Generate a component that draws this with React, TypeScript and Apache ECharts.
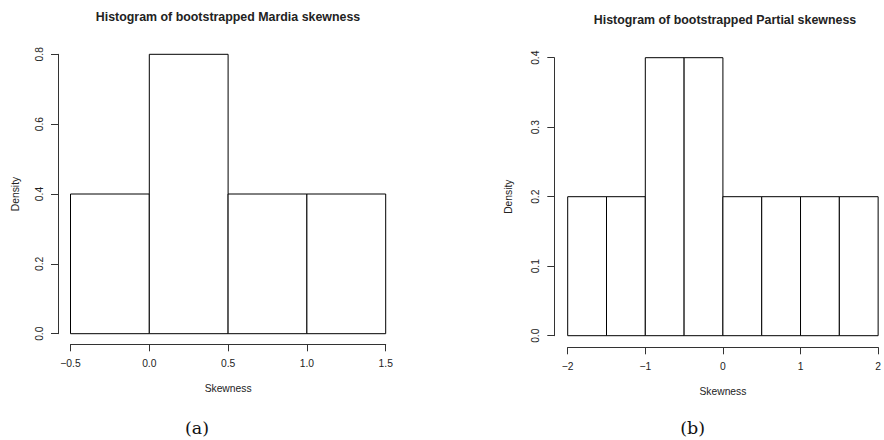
import React, { useEffect, useRef } from "react";
import * as echarts from "echarts";

// Panel (a): Mardia skewness histogram
const mardiaBreaks = [-0.5, 0.0, 0.5, 1.0, 1.5];
const mardiaDensity = [0.4, 0.8, 0.4, 0.4];
const mardiaXTicks = { min: -0.5, max: 1.5, interval: 0.5 };
const mardiaYTicks = { min: 0, max: 0.8, interval: 0.2 };

// Panel (b): Partial skewness histogram
const partialBreaks = [-2, -1.5, -1, -0.5, 0, 0.5, 1, 1.5, 2];
const partialDensity = [0.2, 0.2, 0.4, 0.4, 0.2, 0.2, 0.2, 0.2];
const partialXTicks = { min: -2, max: 2, interval: 1 };
const partialYTicks = { min: 0, max: 0.4, interval: 0.1 };

const titles = [
  "Histogram of bootstrapped Mardia skewness",
  "Histogram of bootstrapped Partial skewness",
];
const xLabel = "Skewness";
const yLabel = "Density";
const captions = ["(a)", "(b)"];

const FONT = "'Liberation Sans', Arial, Helvetica, sans-serif";
const AXIS_COLOR = "#333";
const TEXT_COLOR = "#222";

function toBins(breaks: number[], dens: number[]) {
  return dens.map((d, i) => [breaks[i], breaks[i + 1], d]);
}

const minus = (s: string) => s.replace("-", "\u2212");

function renderBar(params: any, api: any) {
  const x0 = api.value(0);
  const x1 = api.value(1);
  const d = api.value(2);
  const p0 = api.coord([x0, d]);
  const p1 = api.coord([x1, 0]);
  return {
    type: "rect",
    shape: { x: p0[0], y: p0[1], width: p1[0] - p0[0], height: p1[1] - p0[1] },
    style: { fill: "#fff", stroke: "#000", lineWidth: 1 },
  };
}

export default function App() {
  const ref = useRef<HTMLDivElement>(null);
  useEffect(() => {
    if (!ref.current) return;
    const chart = echarts.init(ref.current, undefined, { renderer: "svg" });

    const axisCommon = {
      axisLine: { show: true, onZero: false, lineStyle: { color: AXIS_COLOR, width: 1 } },
      axisTick: { show: true, length: 7, lineStyle: { color: AXIS_COLOR, width: 1 } },
      splitLine: { show: false },
    };

    const xAxis = (idx: number, t: any, offset: number, decimals: number) => ({
      type: "value",
      gridIndex: idx,
      position: "bottom",
      min: t.min,
      max: t.max,
      interval: t.interval,
      offset,
      ...axisCommon,
      axisLabel: {
        show: true,
        margin: 14,
        color: TEXT_COLOR,
        fontSize: 10.3,
        fontFamily: FONT,
        showMinLabel: true,
        showMaxLabel: true,
        formatter: (v: number) => minus(v.toFixed(decimals)),
      },
      name: xLabel,
      nameLocation: "middle",
      nameGap: 39,
      nameTextStyle: { color: TEXT_COLOR, fontSize: 10.3, fontFamily: FONT },
    });

    const yAxis = (idx: number, t: any, offset: number, gap: number) => ({
      type: "value",
      gridIndex: idx,
      position: "left",
      min: t.min,
      max: t.max,
      interval: t.interval,
      offset,
      ...axisCommon,
      axisLabel: {
        show: true,
        margin: 14,
        rotate: 90,
        color: TEXT_COLOR,
        fontSize: 10.3,
        fontFamily: FONT,
        showMinLabel: true,
        showMaxLabel: true,
        formatter: (v: number) => v.toFixed(1),
      },
      name: yLabel,
      nameLocation: "middle",
      nameRotate: 90,
      nameGap: gap,
      nameTextStyle: { color: TEXT_COLOR, fontSize: 10.3, fontFamily: FONT },
    });

    const titleStyle = { fontSize: 12.4, fontWeight: "bold", color: TEXT_COLOR, fontFamily: FONT };

    chart.setOption({
      animation: false,
      backgroundColor: "#fff",
      title: [
        { text: titles[0], left: 228, top: 11, padding: 0, textAlign: "center", textStyle: titleStyle },
        { text: titles[1], left: 725, top: 14, padding: 0, textAlign: "center", textStyle: titleStyle },
      ],
      grid: [
        { left: 70.5, top: 54.3, width: 315.2, height: 279.4 },
        { left: 567.7, top: 57.7, width: 314.3, height: 278 },
      ],
      xAxis: [xAxis(0, mardiaXTicks, 10.6, 1), xAxis(1, partialXTicks, 11.6, 0)],
      yAxis: [yAxis(0, mardiaYTicks, 12.5, 38), yAxis(1, partialYTicks, 13.4, 41)],
      series: [
        {
          type: "custom",
          xAxisIndex: 0,
          yAxisIndex: 0,
          renderItem: renderBar,
          encode: { x: [0, 1], y: 2 },
          data: toBins(mardiaBreaks, mardiaDensity),
          clip: false,
        },
        {
          type: "custom",
          xAxisIndex: 1,
          yAxisIndex: 1,
          renderItem: renderBar,
          encode: { x: [0, 1], y: 2 },
          data: toBins(partialBreaks, partialDensity),
          clip: false,
        },
      ],
      graphic: [
        {
          type: "text",
          x: 197,
          y: 427.7,
          style: {
            text: captions[0],
            fontSize: 17.5,
            fontFamily: "'DejaVu Serif', 'Liberation Serif', serif",
            fill: "#111",
            textAlign: "center",
            textVerticalAlign: "middle",
          },
        },
        {
          type: "text",
          x: 692.7,
          y: 428.3,
          style: {
            text: captions[1],
            fontSize: 17.5,
            fontFamily: "'DejaVu Serif', 'Liberation Serif', serif",
            fill: "#111",
            textAlign: "center",
            textVerticalAlign: "middle",
          },
        },
      ],
    });
    return () => chart.dispose();
  }, []);
  return (
    <div
      ref={ref}
      style={{ position: "absolute", left: 0, top: 0, width: 884, height: 440 }}
    />
  );
}
